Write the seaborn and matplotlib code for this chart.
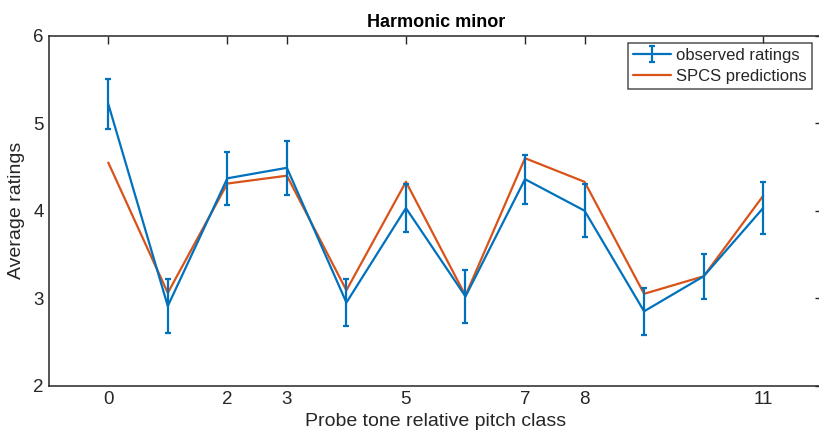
import matplotlib
matplotlib.use("Agg")
import matplotlib.pyplot as plt
import seaborn as sns
import pandas as pd

# Probe tone ratings for the harmonic minor context
pitch_class = [0, 1, 2, 3, 4, 5, 6, 7, 8, 9, 10, 11]
observed = [5.22, 2.91, 4.37, 4.49, 2.95, 4.03, 3.02, 4.36, 4.00, 2.85, 3.25, 4.03]
observed_err = [0.29, 0.31, 0.30, 0.31, 0.27, 0.27, 0.30, 0.28, 0.30, 0.27, 0.26, 0.30]
predicted = [4.55, 3.06, 4.31, 4.40, 3.09, 4.33, 3.03, 4.60, 4.33, 3.05, 3.25, 4.17]
tick_positions = [0, 2, 3, 5, 7, 8, 11]

sns.set_theme(style="white")
plt.rcParams["font.family"] = ["Liberation Sans", "DejaVu Sans"]

blue = "#0072BD"
orange = "#D95319"
axis_col = "#262626"

fig = plt.figure(figsize=(8.19, 4.45), dpi=100)
ax = fig.add_axes([0.0595, 0.1333, 0.945, 0.7865])

df = pd.DataFrame({"pc": pitch_class, "obs": observed, "pred": predicted})

obs_handle = ax.errorbar(df["pc"], df["obs"], yerr=observed_err, color=blue, lw=1.6,
                         elinewidth=1.6, capsize=2.5, capthick=1.6,
                         label="observed ratings", zorder=3)
sns.lineplot(data=df, x="pc", y="pred", color=orange, lw=1.6, ax=ax,
             label="SPCS predictions", zorder=2)

ax.set_xlim(-1, 12)
ax.set_ylim(2, 6)
ax.set_xticks(tick_positions)
ax.set_yticks([2, 3, 4, 5, 6])
ax.tick_params(direction="in", length=5.5, width=1, colors=axis_col,
               labelsize=13.5, top=True, right=True, labelcolor="#262626")
for s in ax.spines.values():
    s.set_color(axis_col)
    s.set_linewidth(1.1)

ax.set_title("Harmonic minor", fontsize=13, fontweight="bold", color="#000000", pad=6)
ax.set_xlabel("Probe tone relative pitch class", fontsize=14, color="#262626", labelpad=4)
ax.set_ylabel("Average ratings", fontsize=14, color="#262626", labelpad=6)

handles, labels = ax.get_legend_handles_labels()
order = [labels.index("observed ratings"), labels.index("SPCS predictions")]
leg = ax.legend([handles[i] for i in order], [labels[i] for i in order],
                loc="upper right", bbox_to_anchor=(0.9857, 0.9793), fontsize=12,
                frameon=True, fancybox=False, borderpad=0.3, handlelength=2.3,
                handletextpad=0.3, labelspacing=0.35, borderaxespad=0)
leg.get_frame().set_edgecolor(axis_col)
leg.get_frame().set_linewidth(1.1)

fig.savefig("out.png", dpi=100)
